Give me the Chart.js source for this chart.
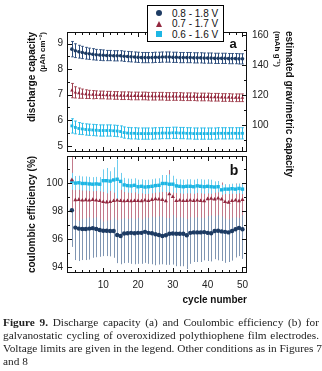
<!DOCTYPE html>
<html><head><meta charset="utf-8">
<script src="https://cdn.jsdelivr.net/npm/chart.js@4"></script>
<style>
html,body{margin:0;padding:0;background:#fff;width:322px;height:371px;overflow:hidden;}
#wrap{position:relative;width:322px;height:371px;}
canvas{position:absolute;left:0;top:0;}
#legend{position:absolute;left:147px;top:5px;width:75px;height:35px;border:1px solid #000;background:#fff;z-index:5;font:10px "Liberation Sans",Arial,sans-serif;color:#111;}
#legend .row{position:absolute;left:0;width:100%;height:11px;line-height:11px;padding-left:24px;box-sizing:border-box;white-space:nowrap;}
#legend .mk{position:absolute;left:8px;top:2.5px;}
.circ{width:6px;height:6px;border-radius:50%;background:#1d3b63;}
.tri{width:0;height:0;border-left:3.5px solid transparent;border-right:3.5px solid transparent;border-bottom:6px solid #93283f;}
.sq{width:6px;height:6px;background:#1db6e4;}
#cap{position:absolute;left:3px;top:316px;width:316px;font:11.3px "Liberation Serif","Times New Roman",serif;color:#222;line-height:13px;}
#cap .j{text-align:justify;text-align-last:justify;white-space:nowrap;}
</style>
</head><body>
<div id="wrap">
<canvas id="ca" width="322" height="310"></canvas>
<canvas id="cb" width="322" height="310"></canvas>
<div id="legend">
 <div class="row" style="top:1.5px"><span class="mk circ"></span>0.8 - 1.8 V</div>
 <div class="row" style="top:12px"><span class="mk tri"></span>0.7 - 1.7 V</div>
 <div class="row" style="top:22.5px"><span class="mk sq"></span>0.6 - 1.6 V</div>
</div>
<div id="cap">
 <div class="j"><b>Figure 9.</b> Discharge capacity (a) and Coulombic efficiency (b) for</div>
 <div class="j">galvanostatic cycling of overoxidized polythiophene film electrodes.</div>
 <div class="j">Voltage limits are given in the legend. Other conditions as in Figures 7</div>
 <div>and 8</div>
</div>
</div>
<script>
// ---------- data ----------
const cycles = [1,2,3,4,5,6,7,8,9,10,11,12,13,14,15,16,17,18,19,20,21,22,23,24,25,26,27,28,29,30,31,32,33,34,35,36,37,38,39,40,41,42,43,44,45,46,47,48,49,50];
const seriesLabels = ['0.8 - 1.8 V','0.7 - 1.7 V','0.6 - 1.6 V'];

// panel a: discharge capacity (µAh cm^-2)
const capBlue = [8.78,8.72,8.68,8.65,8.62,8.60,8.58,8.56,8.55,8.54,8.53,8.53,8.52,8.52,8.52,8.50,8.49,8.48,8.47,8.46,8.45,8.45,8.45,8.45,8.46,8.46,8.47,8.47,8.47,8.46,8.46,8.45,8.45,8.45,8.45,8.44,8.44,8.44,8.43,8.43,8.43,8.42,8.42,8.42,8.42,8.41,8.41,8.41,8.40,8.40];
const capBlueErr = [0.30,0.27,0.25,0.24,0.23,0.22,0.22,0.21,0.21,0.21,0.20,0.20,0.20,0.20,0.20,0.20,0.20,0.20,0.20,0.20,0.20,0.20,0.20,0.20,0.20,0.20,0.20,0.20,0.20,0.20,0.20,0.20,0.20,0.20,0.20,0.20,0.20,0.20,0.20,0.20,0.20,0.20,0.20,0.20,0.20,0.20,0.20,0.20,0.20,0.20];
const capRed = [7.16,7.09,7.06,7.04,7.02,7.01,7.00,7.00,6.99,6.99,6.98,6.98,6.97,6.97,6.96,6.96,6.96,6.95,6.95,6.95,6.95,6.95,6.94,6.94,6.94,6.94,6.94,6.93,6.93,6.93,6.93,6.93,6.92,6.92,6.92,6.92,6.91,6.91,6.91,6.91,6.90,6.90,6.90,6.89,6.89,6.89,6.88,6.88,6.88,6.88];
const capRedErr = [0.28,0.22,0.20,0.18,0.17,0.16,0.16,0.15,0.15,0.15,0.15,0.15,0.15,0.15,0.15,0.15,0.15,0.15,0.15,0.15,0.15,0.15,0.15,0.15,0.15,0.15,0.15,0.15,0.15,0.15,0.15,0.15,0.15,0.15,0.15,0.15,0.15,0.15,0.15,0.15,0.15,0.15,0.15,0.15,0.15,0.15,0.15,0.15,0.15,0.15];
const capCyan = [5.78,5.72,5.68,5.66,5.64,5.63,5.62,5.61,5.60,5.60,5.60,5.60,5.59,5.58,5.56,5.52,5.50,5.49,5.49,5.48,5.48,5.48,5.48,5.48,5.49,5.49,5.50,5.50,5.50,5.51,5.51,5.50,5.50,5.49,5.49,5.48,5.48,5.48,5.48,5.48,5.48,5.48,5.49,5.49,5.49,5.49,5.49,5.49,5.49,5.49];
const capCyanErr = [0.28,0.25,0.23,0.22,0.22,0.22,0.22,0.22,0.22,0.22,0.22,0.22,0.22,0.22,0.22,0.22,0.22,0.22,0.22,0.22,0.22,0.22,0.22,0.22,0.22,0.22,0.22,0.22,0.22,0.22,0.22,0.22,0.22,0.22,0.22,0.22,0.22,0.22,0.22,0.22,0.22,0.22,0.22,0.22,0.22,0.22,0.22,0.22,0.22,0.22];

// panel b: coulombic efficiency (%)
const ceBlue = [98.05,96.82,96.75,96.72,96.72,96.75,96.78,96.72,96.65,96.60,96.60,96.58,96.58,96.30,96.22,96.40,96.42,96.45,96.42,96.45,96.45,96.52,96.45,96.42,96.35,96.30,96.22,96.28,96.38,96.40,96.38,96.38,96.38,96.28,96.45,96.48,96.48,96.48,96.50,96.45,96.42,96.58,96.60,96.55,96.52,96.48,96.58,96.70,96.80,96.70];
const ceBlueErr = [2.6,2.3,2.3,2.2,2.2,2.2,2.1,2.0,1.9,1.8,1.8,1.8,1.9,2.0,2.0,2.1,2.1,2.2,2.2,2.2,2.2,2.2,2.2,2.2,2.2,2.1,2.0,2.1,2.2,2.2,2.3,2.3,2.3,2.4,2.2,2.1,2.1,2.1,2.0,2.0,2.0,2.0,2.1,2.1,2.2,2.1,2.1,2.0,2.0,2.1];
const ceRed = [100.20,98.78,98.80,98.75,98.78,98.75,98.80,98.75,98.72,98.65,98.62,98.65,98.72,98.75,98.72,98.70,98.72,98.70,98.72,98.72,98.70,98.75,98.72,98.80,98.85,98.82,98.80,98.70,99.20,99.00,98.72,98.75,98.72,98.72,98.75,98.72,98.75,98.72,98.70,98.85,98.88,98.82,98.90,98.82,98.65,98.60,98.72,98.75,98.70,98.80];
const ceRedErr = [2.2,1.4,1.5,1.3,1.3,1.2,1.3,1.2,1.3,1.4,1.3,1.3,1.2,1.4,1.3,1.2,1.3,1.2,1.3,1.2,1.3,1.2,1.2,1.2,1.3,1.2,1.2,1.2,1.7,1.3,1.2,1.2,1.2,1.3,1.2,1.2,1.2,1.2,1.2,1.2,1.2,1.2,1.2,1.2,1.2,1.2,1.2,1.2,1.2,1.1];
const ceCyan = [100.10,99.98,100.00,99.95,99.95,99.92,99.90,99.92,99.90,100.15,100.15,100.12,100.20,100.25,100.10,99.85,99.80,99.78,99.82,99.72,99.75,99.70,99.72,99.75,99.80,99.82,99.95,99.95,99.90,99.90,99.78,99.75,99.72,99.75,99.75,99.72,99.78,99.75,99.72,99.75,99.72,99.70,99.72,99.50,99.55,99.55,99.58,99.55,99.60,99.55];
const ceCyanErr = [0.6,0.5,0.5,0.5,0.5,0.5,0.5,0.5,0.5,0.8,0.9,0.7,0.9,1.4,0.6,0.5,0.5,0.5,0.5,0.5,0.5,0.5,0.5,0.5,0.5,0.5,0.6,0.6,0.7,0.6,0.5,0.5,0.5,0.5,0.5,0.5,0.5,0.5,0.5,0.5,0.5,0.4,0.4,0.35,0.35,0.35,0.35,0.35,0.35,0.35];

// ---------- styling ----------
const NAVY='#1d3b63', WINE='#93283f', CYAN='#1db6e4';
Chart.defaults.font.family = "'Liberation Sans', Arial, sans-serif";
Chart.defaults.font.size = 10;
Chart.defaults.color = '#222';

function pts(vals, errs){ return vals.map((v,i)=>({x:cycles[i], y:v, lo:v-errs[i], hi:v+errs[i]})); }

function mkDataset(label, vals, errs, color, errColor, style, radius, errWidth, errCap){
  return {label, data:pts(vals,errs), showLine:false, pointStyle:style, pointRadius:radius,
    pointBackgroundColor:color, pointBorderColor:color, pointBorderWidth:0,
    errColor, errWidth, errCap, yAxisID:'y'};
}

const errorBars = {
  id:'errorBars',
  beforeDatasetsDraw(chart){
    const ctx=chart.ctx, ca=chart.chartArea;
    ctx.save();
    ctx.beginPath(); ctx.rect(ca.left, ca.top, ca.width, ca.height); ctx.clip();
    chart.data.datasets.forEach((ds,i)=>{
      const meta=chart.getDatasetMeta(i);
      const ys=chart.scales[meta.yAxisID];
      ctx.strokeStyle=ds.errColor; ctx.lineWidth=ds.errWidth;
      meta.data.forEach((p,j)=>{
        const d=ds.data[j];
        const x=Math.round(p.x)+(ds.errWidth%2?0.5:0);
        const y1=ys.getPixelForValue(d.lo), y2=ys.getPixelForValue(d.hi);
        ctx.beginPath();
        ctx.moveTo(x,y1); ctx.lineTo(x,y2);
        if(ds.errCap){
          ctx.moveTo(x-ds.errCap,y1); ctx.lineTo(x+ds.errCap,y1);
          ctx.moveTo(x-ds.errCap,y2); ctx.lineTo(x+ds.errCap,y2);
        }
        ctx.stroke();
      });
    });
    ctx.restore();
  }
};

function framePlugin(id, yLeft, yRight, texts){
  return {
    id,
    afterDraw(chart){
      const ctx=chart.ctx, ca=chart.chartArea;
      ctx.save();
      ctx.strokeStyle='#111'; ctx.lineWidth=1;
      ctx.strokeRect(Math.round(ca.left)+0.5, Math.round(ca.top)+0.5, Math.round(ca.width)-1, Math.round(ca.height)-1);
      const xs=chart.scales.x;
      ctx.beginPath();
      for(let v=2; v<=50; v+=2){
        const x=Math.round(xs.getPixelForValue(v))+0.5;
        const L = (v%10===0)?5:3;
        ctx.moveTo(x,ca.bottom); ctx.lineTo(x,ca.bottom-L);
        ctx.moveTo(x,ca.top); ctx.lineTo(x,ca.top+L);
      }
      [[yLeft,'L'],[yRight,'R']].forEach(([cfg,side])=>{
        const sc=chart.scales[cfg.id];
        const start=Math.ceil(sc.min/cfg.minor)*cfg.minor;
        for(let v=start; v<=sc.max+1e-9; v+=cfg.minor){
          const vv=Math.round(v*1000)/1000;
          const y=Math.round(sc.getPixelForValue(vv))+0.5;
          const major=Math.abs(vv/cfg.major-Math.round(vv/cfg.major))<1e-6;
          const L=major?5:3;
          if(side==='L'){ctx.moveTo(ca.left,y); ctx.lineTo(ca.left+L,y);}
          else {ctx.moveTo(ca.right,y); ctx.lineTo(ca.right-L,y);}
        }
      });
      ctx.stroke();
      ctx.fillStyle='#111';
      texts.forEach(t=>{
        ctx.save();
        ctx.font=t.font;
        ctx.translate(t.x(ca), t.y(ca));
        ctx.rotate(t.rot||0);
        ctx.textAlign=t.align||'center';
        ctx.textBaseline='middle';
        ctx.fillText(t.text,0,0);
        ctx.restore();
      });
      ctx.restore();
    }
  };
}

const keepTicks = (vals)=>function(scale){ scale.ticks = vals.map(v=>({value:v})); };

// ---------- panel a ----------
const capTicksLeft=[5,6,7,8,9], capTicksRight=[100,120,140,160], cycleTicks=[10,20,30,40,50];
new Chart(document.getElementById('ca'), {
  type:'scatter',
  data:{datasets:[
    mkDataset(seriesLabels[0], capBlue, capBlueErr, NAVY, '#2d4d7c', 'circle', 1.8, 1, 1.3),
    mkDataset(seriesLabels[1], capRed, capRedErr, WINE, '#a0404f', 'triangle', 2, 1, 1.3),
    mkDataset(seriesLabels[2], capCyan, capCyanErr, CYAN, '#2bbbe8', 'rect', 2, 1, 1.3),
  ]},
  options:{
    responsive:false, animation:false, events:[],
    layout:{padding:{top:32,left:0,right:0,bottom:0}, autoPadding:false},
    plugins:{legend:{display:false}, tooltip:{enabled:false}},
    scales:{
      x:{type:'linear', min:-0.4, max:51.3, ticks:{display:false}, grid:{display:false,drawTicks:false}, border:{display:false},
         afterFit(s){s.height=158;}},
      y:{position:'left', min:4.76, max:9.45, afterBuildTicks:keepTicks(capTicksLeft),
         ticks:{padding:4, font:{size:10}}, grid:{display:false,drawTicks:false}, border:{display:false},
         afterFit(s){s.width=67;}},
      y1:{position:'right', min:82, max:162, afterBuildTicks:keepTicks(capTicksRight),
         ticks:{padding:5, font:{size:10}}, grid:{display:false,drawTicks:false}, border:{display:false},
         afterFit(s){s.width=75;}}
    }
  },
  plugins:[errorBars, framePlugin('frameA', {id:'y',major:1,minor:0.5}, {id:'y1',major:20,minor:10}, [
    {text:'discharge capacity', font:'bold 10px "Liberation Sans", Arial', x:ca=>32, y:ca=>ca.top, rot:-Math.PI/2, align:'right'},
    {text:'(µAh cm\u207B\u00B2)', font:'bold 8px "Liberation Sans", Arial', x:ca=>43, y:ca=>ca.top, rot:-Math.PI/2, align:'right'},
    {text:'estimated gravimetric capacity', font:'bold 10px "Liberation Sans", Arial', x:ca=>289, y:ca=>ca.top-1, rot:Math.PI/2, align:'left'},
    {text:'(mAh g\u207B\u00B9)', font:'bold 8px "Liberation Sans", Arial', x:ca=>277, y:ca=>ca.top-1, rot:Math.PI/2, align:'left'},
    {text:'a', font:'bold 13px "Liberation Sans", Arial', x:ca=>ca.right-14, y:ca=>ca.top+12}
  ])]
});

// ---------- panel b ----------
const ceTicks=[94,96,98,100];
new Chart(document.getElementById('cb'), {
  type:'scatter',
  data:{datasets:[
    mkDataset(seriesLabels[0], ceBlue, ceBlueErr, NAVY, '#7f95b2', 'circle', 2.2, 1, 0),
    mkDataset(seriesLabels[1], ceRed, ceRedErr, WINE, '#c27a8b', 'triangle', 2.4, 1, 0),
    mkDataset(seriesLabels[2], ceCyan, ceCyanErr, CYAN, '#6fcdee', 'rect', 2.4, 1, 0),
  ]},
  options:{
    responsive:false, animation:false, events:[],
    layout:{padding:{top:156,left:0,right:75,bottom:0}, autoPadding:false},
    plugins:{legend:{display:false}, tooltip:{enabled:false}},
    scales:{
      x:{type:'linear', min:-0.4, max:51.3, afterBuildTicks:keepTicks(cycleTicks),
         ticks:{padding:6, font:{size:10}, maxRotation:0}, grid:{display:false,drawTicks:false}, border:{display:false},
         afterFit(s){s.height=37;}},
      y:{position:'left', min:93.6, max:101.9, afterBuildTicks:keepTicks(ceTicks),
         ticks:{padding:4, font:{size:10}}, grid:{display:false,drawTicks:false}, border:{display:false},
         afterFit(s){s.width=67;}}
    }
  },
  plugins:[errorBars, framePlugin('frameB', {id:'y',major:2,minor:1}, {id:'y',major:2,minor:1}, [
    {text:'coulombic efficiency (%)', font:'bold 10px "Liberation Sans", Arial', x:ca=>32, y:ca=>(ca.top+ca.bottom)/2, rot:-Math.PI/2},
    {text:'b', font:'bold 14px "Liberation Sans", Arial', x:ca=>ca.right-13, y:ca=>ca.top+15},
    {text:'cycle number', font:'bold 10px "Liberation Sans", Arial', x:ca=>ca.right, y:ca=>ca.bottom+27, align:'right'}
  ])]
});
</script>
</body></html>
